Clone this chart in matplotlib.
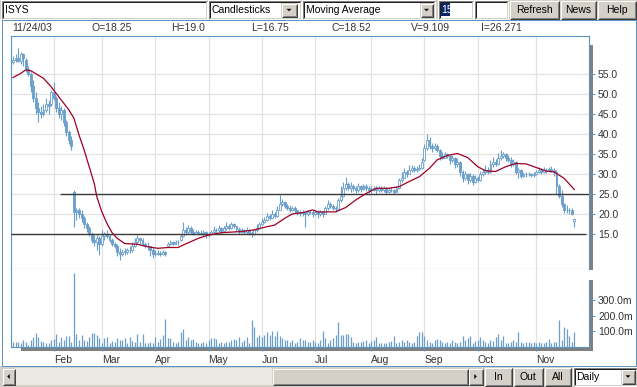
import matplotlib
matplotlib.use("Agg")
import matplotlib.pyplot as plt
from matplotlib.patches import Rectangle, Polygon
import numpy as np
import pandas as pd

plt.rcParams["font.family"] = ["Liberation Sans", "DejaVu Sans"]

# ---------------- data ----------------
holidays = ["2003-01-20", "2003-02-17", "2003-04-18", "2003-05-26", "2003-07-04", "2003-09-01"]

opens = [
    58.0, 58.5, 59.0, 58.2, 60.0, 58.5, 56.2, 55.0, 52.0, 49.0, 46.5, 45.5, 45.0, 46.0, 47.5, 47.5,
    50.5, 49.0, 46.5, 45.0, 46.0, 43.0, 40.5, 38.5, 25.5, 20.5, 20.8, 20.0, 19.0, 17.5, 16.5, 15.0, 13.5, 13.0, 14.0,
    12.5, 14.5, 15.0, 14.5, 13.5, 12.5, 12.0, 10.5, 10.0, 10.5, 10.5, 11.0, 10.8, 12.0, 13.0, 13.8, 13.5, 12.5, 12.0, 11.8, 11.0,
    10.0, 10.0, 10.2, 9.8, 10.3, 12.0, 12.5, 12.8, 12.5, 13.0, 13.5, 14.5, 16.0, 15.5, 16.5, 15.5, 15.0, 15.5, 15.2, 15.0, 15.3,
    14.8, 15.0, 15.5, 16.0, 15.8, 16.3, 15.6, 16.5, 17.0, 16.5, 17.5, 16.8, 16.2, 15.5, 15.8, 15.3, 16.0, 15.2, 14.8, 15.8, 16.5,
    17.5, 18.0, 18.5, 19.5, 19.0, 20.0, 19.5, 21.0, 22.5, 23.0, 22.0, 21.5, 21.0, 21.5, 20.8, 20.5, 20.2, 20.5, 19.8, 20.3, 20.5,
    20.0, 20.5, 19.8, 20.5, 20.0, 21.5, 22.5, 22.0, 21.5, 21.2, 23.5, 24.5, 26.5, 27.5, 26.5, 27.0, 26.5, 26.0, 26.8, 26.2, 27.0, 26.5,
    26.0, 26.0, 26.5, 25.8, 26.5, 26.0, 26.3, 25.5, 25.8, 26.0, 25.5, 26.5, 28.5, 29.0, 30.5, 30.0, 31.0, 31.5, 30.8, 31.2, 31.5,
    33.5, 36.5, 38.5, 37.0, 36.5, 37.0, 36.0, 34.5, 34.0, 34.8, 34.5, 33.5, 34.0, 32.5, 33.0, 30.5, 29.0, 30.0, 28.5, 29.5, 28.0,
    29.0, 28.5, 30.0, 30.5, 31.0, 30.5, 32.5, 33.0, 32.5, 34.0, 34.5, 35.0, 34.0, 33.5, 32.5, 33.0, 30.5, 31.0, 29.5, 30.0, 29.8, 30.0, 29.6,
    29.8, 30.5, 31.0, 30.5, 31.0, 30.8, 31.2, 31.0, 30.5, 27.0, 24.5, 22.5, 21.0, 20.8, 21.0, 18.25,
]
highs = [
    59.5, 60.0, 61.5, 60.5, 60.2, 59.0, 57.0, 55.5, 53.5, 50.5, 48.0, 47.0, 47.5, 49.0, 48.5, 51.0,
    53.0, 49.5, 48.0, 47.0, 46.5, 43.5, 41.0, 39.5, 26.0, 21.5, 21.4, 21.0, 19.5, 18.0, 17.0, 15.5, 14.6, 15.0, 14.5,
    15.9, 15.5, 16.0, 15.0, 14.0, 13.0, 12.5, 11.5, 11.2, 11.5, 11.4, 11.8, 12.8, 14.0, 14.6, 14.0, 13.9, 13.0, 12.9, 11.8, 11.6,
    10.9, 10.8, 10.6, 10.9, 10.6, 13.0, 13.4, 13.2, 13.4, 13.3, 15.0, 18.0, 16.6, 17.2, 16.8, 16.2, 16.0, 15.9, 16.0, 15.8, 15.6,
    15.5, 16.0, 16.8, 16.5, 17.1, 16.6, 17.0, 17.9, 17.4, 17.9, 17.6, 17.0, 16.6, 16.4, 16.2, 16.6, 16.2, 15.6, 16.2, 17.5, 18.0,
    18.9, 19.2, 20.2, 19.8, 20.9, 20.4, 21.8, 24.6, 23.6, 23.2, 22.4, 22.1, 22.0, 21.8, 21.0, 20.9, 20.8, 20.7, 20.9, 20.9, 20.8,
    21.0, 20.8, 20.9, 20.6, 21.9, 23.4, 22.8, 22.3, 21.9, 24.0, 27.0, 27.8, 29.2, 28.0, 27.9, 27.5, 27.0, 27.6, 27.2, 27.5, 27.4, 26.9,
    26.8, 27.0, 26.8, 27.0, 26.9, 26.8, 26.6, 26.6, 26.6, 26.2, 27.0, 29.0, 30.4, 31.5, 31.0, 32.1, 32.1, 31.8, 31.9, 32.5, 34.0,
    37.5, 39.9, 39.1, 37.6, 37.6, 37.4, 36.2, 35.4, 35.4, 35.2, 34.6, 34.6, 34.2, 33.8, 33.2, 31.0, 30.6, 30.2, 30.1, 29.8, 29.6,
    29.4, 30.6, 31.2, 32.1, 31.6, 33.4, 34.1, 33.6, 35.1, 35.9, 35.4, 35.2, 34.6, 34.1, 33.6, 33.2, 31.4, 31.2, 30.4, 30.4, 30.4, 30.2, 30.4,
    31.0, 31.6, 31.4, 31.6, 31.5, 31.6, 31.8, 31.4, 30.9, 27.5, 25.9, 22.6, 22.1, 21.4, 21.4, 19.0,
]
lows = [
    57.5, 57.8, 58.0, 57.5, 57.0, 55.5, 54.5, 50.5, 48.0, 45.0, 43.0, 44.0, 44.5, 45.5, 45.0, 47.0,
    48.5, 45.5, 44.0, 43.5, 42.0, 39.5, 37.5, 36.0, 16.7, 18.5, 19.0, 18.0, 16.5, 15.5, 14.5, 12.6, 12.0, 11.0, 9.6,
    12.0, 13.5, 13.8, 12.8, 11.8, 11.5, 9.5, 8.5, 9.5, 9.6, 9.8, 10.2, 10.5, 11.6, 12.5, 12.5, 11.8, 11.4, 10.9, 9.5, 8.9,
    9.4, 9.6, 9.4, 9.6, 9.5, 11.8, 12.1, 12.1, 12.3, 12.2, 13.2, 14.2, 14.6, 15.0, 15.0, 14.6, 14.8, 14.6, 14.6, 14.4, 14.0,
    14.2, 14.6, 15.2, 15.0, 15.5, 15.0, 15.4, 16.0, 16.0, 16.2, 16.3, 15.6, 15.0, 15.2, 14.8, 15.0, 14.6, 14.1, 14.6, 15.5, 16.2,
    17.0, 17.6, 18.2, 18.5, 18.8, 19.0, 19.2, 20.8, 21.8, 21.5, 20.8, 20.4, 20.6, 20.2, 19.6, 19.4, 19.5, 16.6, 19.5, 19.8, 19.2,
    19.6, 19.0, 19.5, 19.2, 19.8, 21.0, 21.4, 20.8, 20.4, 21.0, 23.0, 24.2, 26.0, 25.8, 25.5, 25.6, 25.2, 25.5, 25.4, 25.8, 25.6, 25.2,
    25.2, 25.6, 25.0, 25.4, 25.4, 25.5, 25.0, 25.2, 25.4, 25.0, 25.4, 26.2, 27.9, 28.9, 29.2, 29.8, 30.4, 30.4, 30.5, 30.8, 31.2,
    33.2, 36.0, 36.2, 35.4, 35.8, 35.4, 33.4, 33.6, 33.8, 33.9, 32.5, 33.0, 31.4, 31.6, 29.5, 27.9, 28.5, 27.5, 28.0, 27.1, 27.6,
    27.8, 28.2, 29.4, 30.0, 29.8, 30.2, 31.6, 31.8, 32.2, 33.4, 33.8, 33.2, 32.8, 31.6, 31.8, 29.8, 28.9, 29.0, 29.1, 29.1, 29.4, 29.1, 29.2,
    29.6, 30.1, 30.0, 30.2, 30.2, 30.4, 30.5, 29.5, 25.0, 24.0, 21.6, 20.1, 20.2, 20.0, 19.6, 16.75,
]
closes = [
    58.5, 59.0, 58.2, 60.0, 58.8, 56.2, 55.0, 52.0, 49.0, 46.5, 45.5, 45.0, 46.0, 47.5, 47.0, 50.5,
    49.0, 46.5, 45.0, 46.0, 43.0, 40.5, 38.5, 37.0, 20.5, 20.8, 20.0, 19.0, 17.5, 16.5, 15.0, 13.5, 13.0, 14.0, 12.5,
    14.5, 15.0, 14.5, 13.5, 12.5, 12.0, 10.5, 10.0, 10.5, 10.5, 11.0, 10.8, 12.0, 13.0, 13.8, 13.5, 12.5, 12.0, 11.8, 11.0, 10.0,
    10.0, 10.2, 9.8, 10.3, 10.0, 12.5, 12.8, 12.5, 13.0, 12.8, 14.5, 16.0, 15.5, 16.5, 15.5, 15.0, 15.5, 15.2, 15.0, 15.3, 14.8,
    15.0, 15.5, 16.0, 15.8, 16.3, 15.6, 16.5, 17.0, 16.5, 17.5, 16.8, 16.2, 15.5, 15.8, 15.3, 16.0, 15.2, 14.8, 15.8, 16.5, 17.5,
    18.0, 18.5, 19.5, 19.0, 20.0, 19.5, 21.0, 22.5, 23.0, 22.0, 21.5, 21.0, 21.5, 20.8, 20.5, 20.2, 20.5, 19.8, 20.3, 20.5, 20.0,
    20.5, 19.8, 20.5, 20.0, 21.5, 22.5, 22.0, 21.5, 21.2, 23.5, 24.5, 26.5, 27.5, 26.5, 27.0, 26.5, 26.0, 26.8, 26.2, 27.0, 26.5, 26.0,
    26.0, 26.5, 25.8, 26.5, 26.0, 26.3, 25.5, 25.8, 26.0, 25.5, 26.5, 28.5, 29.0, 30.5, 30.0, 31.0, 31.5, 30.8, 31.2, 31.5, 33.0,
    36.5, 38.5, 37.0, 36.5, 37.0, 36.0, 34.5, 34.0, 34.8, 34.5, 33.5, 34.0, 32.5, 33.0, 30.5, 29.0, 30.0, 28.5, 29.5, 28.0, 29.0,
    28.5, 30.0, 30.5, 31.0, 30.5, 32.5, 33.0, 32.5, 34.0, 34.5, 35.0, 34.0, 33.5, 32.5, 33.0, 30.5, 31.0, 29.5, 30.0, 29.8, 30.0, 29.6, 29.8,
    30.5, 31.0, 30.5, 31.0, 30.8, 31.2, 31.0, 30.5, 27.0, 24.5, 22.5, 21.0, 20.8, 21.0, 20.0, 18.52,
]
# volume, millions of shares
volumes = [
    31, 31, 31, 20, 44, 31, 10, 42, 63, 85, 60, 37, 30, 25, 21, 44,
    50, 80, 31, 60, 42, 65, 70, 31, 476, 80, 42, 76, 44, 38, 63, 85, 85, 76, 53,
    20, 53, 63, 20, 35, 31, 53, 42, 42, 53, 20, 63, 35, 29, 81, 31, 81, 25, 20, 31, 20,
    63, 31, 46, 74, 177, 53, 53, 31, 25, 31, 96, 113, 42, 59, 42, 46, 31, 20, 25, 31, 20,
    42, 53, 53, 46, 20, 31, 25, 31, 31, 42, 46, 42, 63, 31, 42, 59, 25, 171, 128, 63, 74,
    59, 74, 96, 74, 100, 68, 100, 68, 53, 42, 42, 31, 42, 20, 31, 53, 42, 42, 31, 31, 42,
    31, 20, 42, 100, 53, 20, 42, 53, 74, 160, 74, 74, 81, 81, 63, 31, 25, 31, 31, 35, 42, 20,
    35, 42, 59, 20, 25, 20, 25, 31, 35, 68, 20, 31, 42, 31, 42, 31, 25, 31, 68, 96, 96,
    68, 42, 31, 25, 42, 50, 42, 31, 20, 31, 25, 42, 31, 20, 31, 68, 42, 53, 68, 20, 35,
    42, 59, 42, 31, 20, 42, 35, 63, 81, 42, 68, 25, 20, 31, 42, 31, 96, 31, 25, 31, 31, 25, 31,
    25, 31, 20, 25, 31, 46, 20, 31, 31, 171, 42, 124, 115, 68, 31, 96,
]
# moving average, read at selected bars
ma_days = [0, 3, 5, 7, 12, 15, 18, 22, 24, 26, 28, 30, 32, 33, 35, 37, 39, 41, 44, 49, 53, 57, 61, 65,
           68, 73, 77, 82, 90, 95, 100, 103, 107, 110, 114, 118, 120, 127, 131, 135, 139, 143, 148,
           152, 156, 160, 164, 167, 171, 175, 179, 183, 186, 190, 194, 198, 202, 206, 210, 213, 217, 221]
ma_values = [54.0, 55.0, 55.9, 55.7, 53.8, 51.7, 49.2, 45.9, 43.8, 39.6, 35.9, 31.7, 27.5, 24.2, 20.4,
             17.5, 15.2, 13.8, 12.5, 12.3, 11.7, 11.3, 11.5, 11.5, 12.4, 13.8, 14.6, 15.2, 15.5, 15.9,
             16.7, 17.1, 18.8, 19.9, 20.2, 20.9, 20.4, 20.4, 21.5, 23.4, 25.0, 26.3, 26.3, 26.7, 28.0,
             29.2, 31.3, 33.4, 34.5, 35.0, 34.0, 31.7, 30.7, 30.5, 31.7, 32.5, 32.4, 31.5, 30.6, 30.4,
             28.8, 26.0]
# horizontal lines drawn on the chart (price, from bar, to bar)
level_prices = [25.0, 15.0]
level_from = [18.5, -0.8]
level_to = [226.8, 225.5]

info_labels = ["11/24/03", "O=18.25", "H=19.0", "L=16.75", "C=18.52", "V=9.109", "I=26.271"]
price_ticks = [15, 20, 25, 30, 35, 40, 45, 50, 55]
volume_ticks = [100, 200, 300]

days = pd.bdate_range("2003-01-09", "2003-11-24")
days = days[~days.isin(pd.to_datetime(holidays))]
idx = np.arange(len(days))
o, h, l, c = map(np.array, (opens, highs, lows, closes))
assert len(o) == len(h) == len(l) == len(c) == len(volumes) == len(days)
month_first = [i for i in range(1, len(days)) if days[i].month != days[i - 1].month]
month_names = [days[i].strftime("%b") for i in month_first]

# ---------------- style ----------------
FACE = "#d4d0c8"
BLUE = "#5b93c4"
CANDLE = "#6a9ecb"
MA_RED = "#9c0024"
GRID = "#e2e2e2"
LEVEL = "#3a3a3a"
TXT = "#333333"
FS = 7.5

W, H = 637, 387
fig = plt.figure(figsize=(W / 100, H / 100), dpi=100)
ui = fig.add_axes([0, 0, 1, 1])
ui.set_xlim(0, W)
ui.set_ylim(H, 0)
ui.axis("off")


def box(x0, y0, x1, y1, fc, z=1):
    ui.add_patch(Rectangle((x0, y0), x1 - x0, y1 - y0, facecolor=fc, edgecolor="none", zorder=z))


def bevel(x0, y0, x1, y1, tl, br):
    ui.plot([x0, x0, x1], [y1, y0, y0], color=tl, lw=0.72, zorder=3, solid_capstyle="butt")
    ui.plot([x0, x1, x1], [y1, y1, y0], color=br, lw=0.72, zorder=3, solid_capstyle="butt")


def button(x0, y0, x1, y1, label=""):
    box(x0, y0, x1, y1, FACE, z=2)
    bevel(x0 + 0.5, y0 + 0.5, x1 - 0.5, y1 - 0.5, "white", "#404040")
    bevel(x0 + 1.5, y0 + 1.5, x1 - 1.5, y1 - 1.5, FACE, "#808080")
    if label:
        ui.text((x0 + x1) / 2, (y0 + y1) / 2 + 0.5, label, ha="center", va="center",
                fontsize=FS, color="black", zorder=4)


def field(x0, y0, x1, y1, label=""):
    box(x0, y0, x1, y1, "white", z=2)
    bevel(x0 + 0.5, y0 + 0.5, x1 - 0.5, y1 - 0.5, "#808080", "white")
    bevel(x0 + 1.5, y0 + 1.5, x1 - 1.5, y1 - 1.5, "#202020", FACE)
    if label:
        ui.text(x0 + 3.5, (y0 + y1) / 2 + 0.5, label, ha="left", va="center",
                fontsize=FS, color="black", zorder=4)


def arrow(cx, cy, kind):
    s = 2.5
    pts = {"down": [(cx - s, cy - 1.2), (cx + s, cy - 1.2), (cx, cy + 1.3)],
           "left": [(cx + 1.2, cy - s), (cx + 1.2, cy + s), (cx - 1.3, cy)],
           "right": [(cx - 1.2, cy - s), (cx - 1.2, cy + s), (cx + 1.3, cy)]}[kind]
    ui.add_patch(Polygon(pts, closed=True, facecolor="black", edgecolor="none", zorder=5))


# toolbar
box(0, 0, W, 19, FACE)
field(1, 0, 207, 19, "ISYS")
field(208, 0, 301, 19, "Candlesticks")
button(281, 3, 297, 17)
arrow(289, 10, "down")
field(302, 0, 435, 19, "Moving Average")
button(420, 3, 433, 17)
arrow(426.5, 10, "down")
field(438, 0, 473, 19)
box(441, 3, 450, 16, "#0a246a", z=3)
ui.text(441.5, 10, "15", ha="left", va="center", fontsize=FS, color="white", zorder=4)
field(474, 0, 508, 19)
button(509, 0, 559, 19, "Refresh")
button(560, 0, 596, 19, "News")
button(597, 0, 636, 19, "Help")

# chart background and outer frame
box(0, 19, W, 366, "white")
ui.add_patch(Rectangle((1.5, 19.5), 634, 346, fill=False, edgecolor=BLUE, lw=0.72, zorder=3))
info_x = [12, 91, 171, 251, 331, 411, 481]
for x, s in zip(info_x, info_labels):
    ui.text(x, 28, s, ha="left", va="center", fontsize=FS, color=TXT, zorder=4)

# 3D shadows of the panels
box(589.5, 45, 592.5, 270, "#808080", z=2)
box(589.5, 280, 592.5, 350.5, "#808080", z=2)
box(21, 347, 592.5, 350.5, "#808080", z=2)

# bottom scroll row
box(0, 366, W, H, FACE)
button(2, 368, 15, 385)
arrow(8.5, 376.5, "left")
box(15, 368, 272, 385, "#ebe9e4", z=2)
button(272, 368, 468, 385)
button(468, 368, 483, 385)
arrow(475.5, 376.5, "right")
button(484, 367, 512, 386, "In")
button(513, 367, 543, 386, "Out")
button(544, 367, 571, 386, "All")
field(573, 367, 637, 386, "Daily")
button(621, 369, 635, 384)
arrow(628, 376.5, "down")


def px_axes(x0, y0, x1, y1):
    return fig.add_axes([x0 / W, 1 - y1 / H, (x1 - x0) / W, (y1 - y0) / H])


XL = (-0.79, 226.8)

# ---------------- price panel ----------------
ax = px_axes(11, 36, 589, 269)
ax.set_facecolor("white")
ax.set_xlim(*XL)
ax.set_ylim(6.125, 64.375)
ax.set_xticks(month_first)
ax.set_xticklabels([])
ax.tick_params(axis="x", length=0)
ax.yaxis.tick_right()
ax.set_yticks(price_ticks)
ax.set_yticklabels([f"{v:.1f}" for v in price_ticks])
ax.tick_params(axis="y", direction="out", length=4, width=0.72, color=BLUE,
               labelcolor=TXT, labelsize=FS, pad=2.5)
ax.grid(True, color=GRID, lw=0.9)
ax.set_axisbelow(True)
for sp in ax.spines.values():
    sp.set_color(BLUE)
    sp.set_linewidth(0.8)

up = c >= o
ax.vlines(idx, l, h, color=CANDLE, lw=0.8, zorder=3)
ax.bar(idx, np.maximum(np.abs(c - o), 0.08), bottom=np.minimum(o, c), width=0.75,
       color=np.where(up, "white", CANDLE), edgecolor=CANDLE, lw=0.6, zorder=4)
ax.hlines(level_prices, level_from, level_to, color=LEVEL, lw=1.0, zorder=5)
ax.plot(ma_days, ma_values, color=MA_RED, lw=0.9, zorder=6)

# ---------------- volume panel ----------------
vx = px_axes(11, 269, 589, 346.5)
vx.set_facecolor("white")
vx.set_xlim(*XL)
vx.set_ylim(0, (346.5 - 269) / 15.5 * 100)
vx.vlines(idx, 0, volumes, color=CANDLE, lw=0.9, zorder=3)
vx.yaxis.tick_right()
vx.set_yticks(volume_ticks)
vx.set_yticklabels([f"{v:.1f}m" for v in volume_ticks])
vx.tick_params(axis="y", direction="out", length=4, width=0.72, color=BLUE,
               labelcolor=TXT, labelsize=FS, pad=2.5)
vx.set_xticks(month_first)
vx.set_xticklabels(month_names, ha="left")
vx.tick_params(axis="x", direction="out", length=3, width=0.8, color=BLUE,
               labelcolor=TXT, labelsize=FS, pad=3)
vx.grid(True, axis="x", color=GRID, lw=0.9)
vx.set_axisbelow(True)
for sp in vx.spines.values():
    sp.set_color(BLUE)
    sp.set_linewidth(0.8)
vx.spines["top"].set_visible(False)
vx.spines["right"].set_bounds(0, (346.5 - 280) / 15.5 * 100)

fig.savefig("out.png", dpi=100)
